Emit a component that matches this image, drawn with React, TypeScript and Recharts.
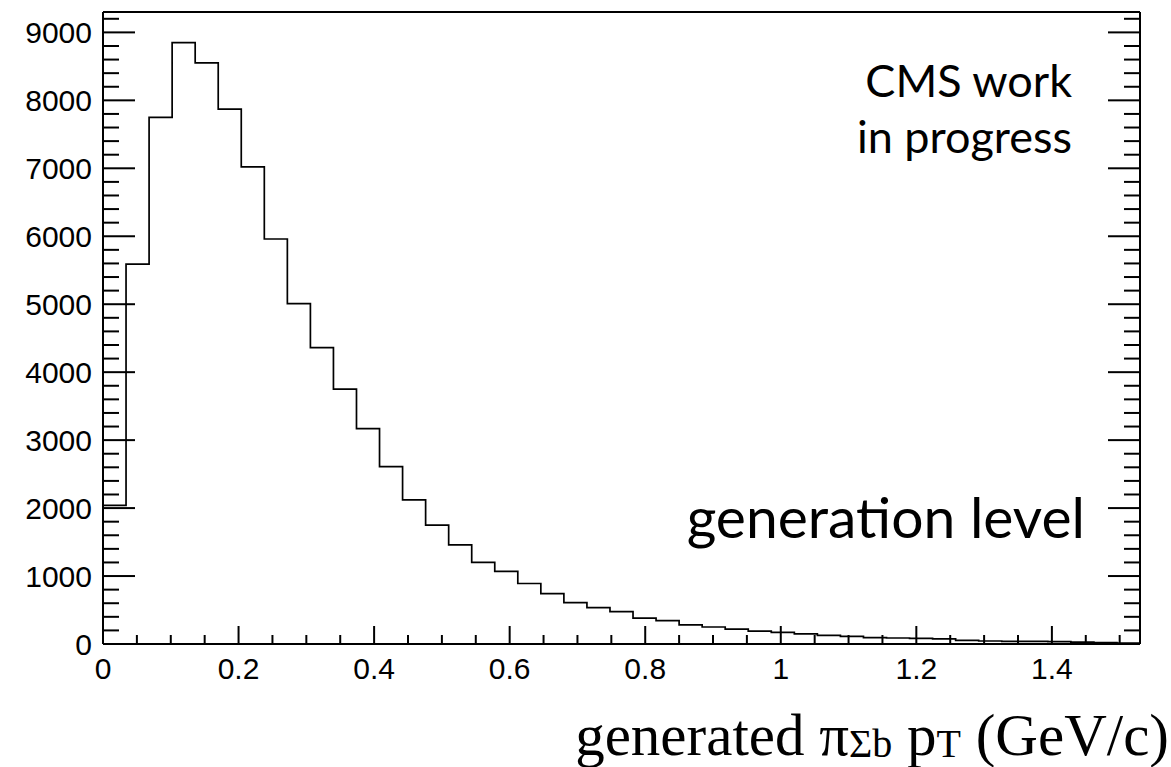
import React from "react";
import { ComposedChart, Line, XAxis, YAxis, ReferenceLine } from "recharts";

// histogram binning (GeV/c)
const BIN_WIDTH = 0.034;
const X_MAX = 1.53;
const Y_MAX = 9300;

// entries per bin
const binCounts = [
  2040, 5590, 7750, 8850, 8550, 7870, 7020, 5960, 5010, 4360, 3750, 3170,
  2610, 2120, 1750, 1460, 1200, 1070, 890, 740, 610, 535, 475, 380, 345, 280,
  250, 220, 190, 170, 150, 127, 112, 93, 88, 83, 74, 53, 44, 39, 39, 34, 29,
  20, 15,
];

const xMajorTicks = [0, 0.2, 0.4, 0.6, 0.8, 1, 1.2, 1.4];
const yMajorTicks = [0, 1000, 2000, 3000, 4000, 5000, 6000, 7000, 8000, 9000];

// ROOT-style minor divisions
const xTicks = Array.from({ length: 31 }, (_, i) => +(i * 0.05).toFixed(2));
const yTicks = Array.from({ length: 47 }, (_, i) => i * 200);

const histData = binCounts.map((n, i) => ({ x: +(i * BIN_WIDTH).toFixed(3), n }));
histData.push({ x: X_MAX, n: binCounts[binCounts.length - 1] });

const SANS = "'Liberation Sans', Arial, Helvetica, sans-serif";
const SERIF = "'Liberation Serif', 'Times New Roman', serif";
const GILL = "Lato, 'Open Sans', sans-serif";

const isXMajor = (v: number) => xMajorTicks.some((t) => Math.abs(t - v) < 1e-6);
const isYMajor = (v: number) => yMajorTicks.includes(v);

function BottomTick(props: any) {
  const { x, y, payload } = props;
  const major = isXMajor(payload.value);
  return (
    <g>
      <line x1={x} x2={x} y1={y} y2={y - (major ? 18 : 9)} stroke="#000" strokeWidth={2} />
      {major && (
        <text x={x} y={y + 35} textAnchor="middle" fontFamily={SANS} fontSize={30} fill="#000">
          {String(payload.value)}
        </text>
      )}
    </g>
  );
}

function LeftTick(props: any) {
  const { x, y, payload } = props;
  const major = isYMajor(payload.value);
  return (
    <g>
      <line x1={x} x2={x + (major ? 32 : 16)} y1={y} y2={y} stroke="#000" strokeWidth={2} />
      {major && (
        <text x={x - 11} y={y + 11} textAnchor="end" fontFamily={SANS} fontSize={30} fill="#000">
          {String(payload.value)}
        </text>
      )}
    </g>
  );
}

function RightTick(props: any) {
  const { x, y, payload } = props;
  const major = isYMajor(payload.value);
  return <line x1={x} x2={x - (major ? 32 : 16)} y1={y} y2={y} stroke="#000" strokeWidth={2} />;
}

export default function App() {
  const W = 1171;
  const H = 767;
  return (
    <div style={{ position: "absolute", left: 0, top: 0, width: W, height: H, background: "#fff" }}>
      <ComposedChart width={W} height={H} data={histData} margin={{ top: 12, right: 0, bottom: 0, left: 0 }}>
        <XAxis
          dataKey="x"
          type="number"
          domain={[0, X_MAX]}
          ticks={xTicks}
          interval={0}
          height={123}
          tickSize={0}
          tickMargin={0}
          tickLine={false}
          tick={<BottomTick />}
          axisLine={{ stroke: "#000", strokeWidth: 2 }}
          allowDataOverflow
        />
        <YAxis
          yAxisId="left"
          type="number"
          domain={[0, Y_MAX]}
          ticks={yTicks}
          interval={0}
          width={103}
          tickSize={0}
          tickMargin={0}
          tickLine={false}
          tick={<LeftTick />}
          axisLine={{ stroke: "#000", strokeWidth: 2 }}
          allowDataOverflow
        />
        <YAxis
          yAxisId="right"
          orientation="right"
          type="number"
          domain={[0, Y_MAX]}
          ticks={yTicks}
          interval={0}
          width={31}
          tickSize={0}
          tickMargin={0}
          tickLine={false}
          tick={<RightTick />}
          axisLine={{ stroke: "#000", strokeWidth: 2 }}
          allowDataOverflow
        />
        <ReferenceLine yAxisId="left" y={Y_MAX} stroke="#000" strokeWidth={2} />
        <Line
          yAxisId="left"
          type="stepAfter"
          dataKey="n"
          stroke="#000"
          strokeWidth={1.7}
          dot={false}
          activeDot={false}
          isAnimationActive={false}
        />
      </ComposedChart>
      <svg
        width={W}
        height={H}
        style={{ position: "absolute", left: 0, top: 0, pointerEvents: "none" }}
      >
        <text x={1072} y={97} textAnchor="end" fontFamily={GILL} fontSize={45} fill="#000">
          CMS work
        </text>
        <text x={1072} y={153} textAnchor="end" fontFamily={GILL} fontSize={45} fill="#000">
          in progress
        </text>
        <text x={1085} y={538} textAnchor="end" fontFamily={GILL} fontSize={57} fill="#000">
          generation level
        </text>
        <text x={1169} y={755} textAnchor="end" fontFamily={SERIF} fontSize={59} fill="#000">
          generated π
          <tspan fontSize={40} dy={2}>Σb</tspan>
          <tspan dy={-2}> p</tspan>
          <tspan fontSize={40} dy={2}>T</tspan>
          <tspan dy={-2}> (GeV/c)</tspan>
        </text>
      </svg>
    </div>
  );
}
